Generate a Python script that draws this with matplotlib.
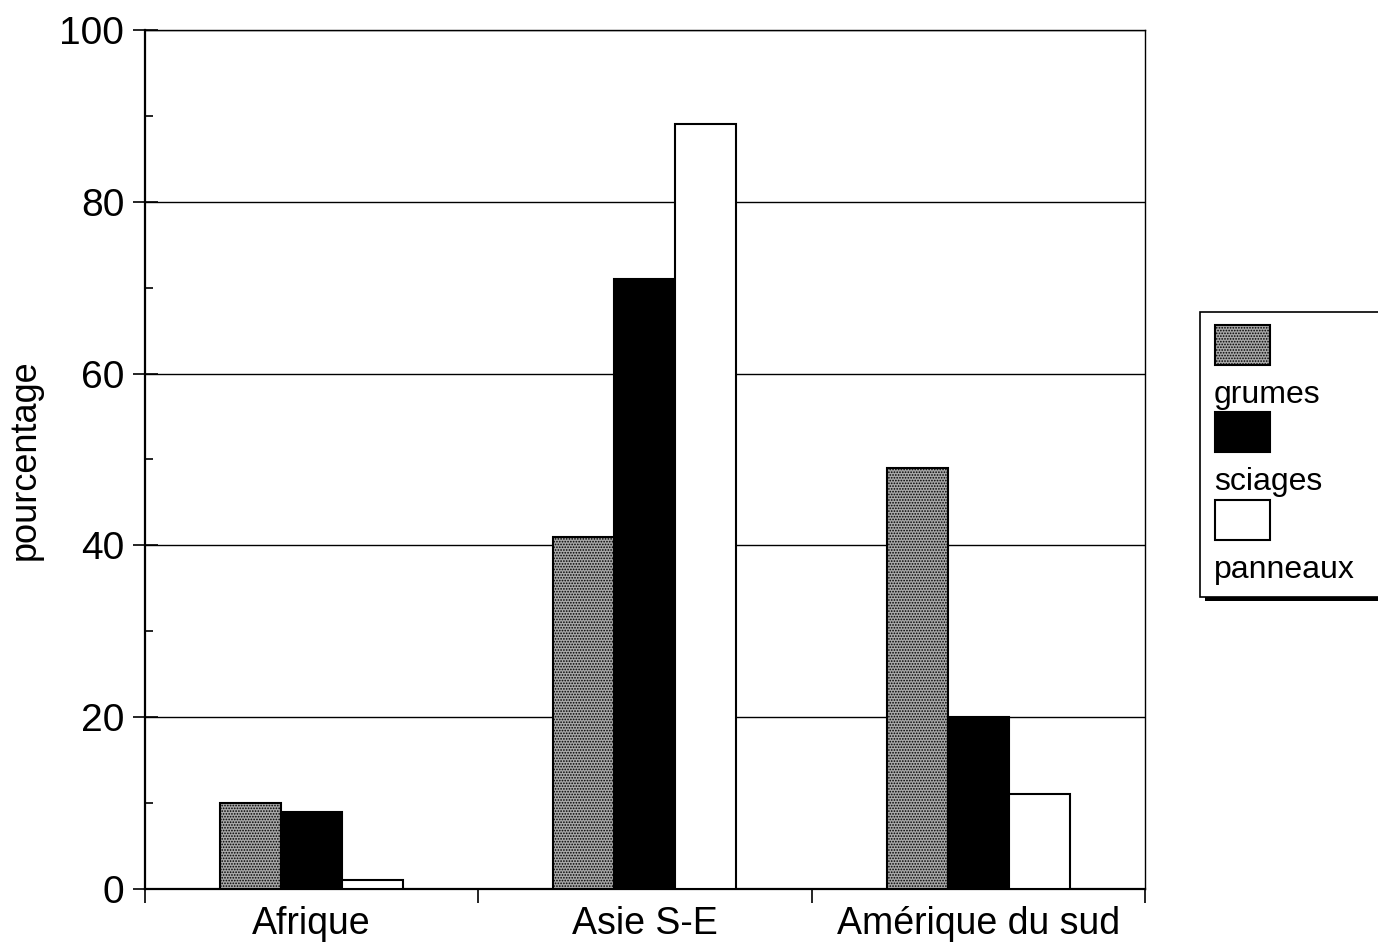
import numpy as np
import matplotlib.pyplot as plt
from matplotlib.patches import Rectangle

plt.rcParams['font.family'] = ['Liberation Sans', 'DejaVu Sans']
plt.rcParams['hatch.linewidth'] = 0.8

regions = ["Afrique", "Asie S-E", "Amérique du sud"]
products = ["grumes", "sciages", "panneaux"]
grumes = [10, 41, 49]
sciages = [9, 71, 20]
panneaux = [1, 89, 11]

colors = ["#a8a8a8", "black", "white"]
hatches = ["......", None, None]

fig = plt.figure(figsize=(13.78, 9.42), dpi=100)
ax = fig.add_axes([0.1052, 0.0563, 0.7257, 0.9119])

x = np.arange(len(regions))
width = 0.183
for i, vals in enumerate([grumes, sciages, panneaux]):
    ax.bar(x + (i - 1) * width, vals, width, color=colors[i],
           edgecolor="black", linewidth=1.5, hatch=hatches[i], zorder=3)

ax.set_xlim(-0.5, 2.5)
ax.set_ylim(0, 100)
ax.set_yticks(range(0, 101, 20))
ax.set_yticks(range(10, 100, 20), minor=True)
ax.yaxis.grid(True, color="black", linewidth=1.0, zorder=0)
ax.set_axisbelow(True)

ax.set_xticks(x)
ax.set_xticklabels(regions, fontsize=27)
ax.set_xticks([-0.5, 0.5, 1.5, 2.5], minor=True)
ax.tick_params(axis="x", which="major", length=0, pad=12)
ax.tick_params(axis="x", which="minor", direction="out", length=10, width=1.2)
ax.tick_params(axis="y", which="major", direction="inout", length=18,
               width=1.2, labelsize=28, pad=6)
ax.tick_params(axis="y", which="minor", direction="in", length=6, width=1.2)
ax.set_ylabel("pourcentage", fontsize=26, labelpad=12)

for side in ["left", "bottom"]:
    ax.spines[side].set_linewidth(1.6)
for side in ["right", "top"]:
    ax.spines[side].set_linewidth(1.0)

# legend drawn by hand: swatch above each label
W, H = 1378.0, 942.0


def fx(px):
    return px / W


def fy(py):
    return 1 - py / H


fig.patches.append(Rectangle((fx(1205), fy(601)), fx(200), 285 / H,
                             transform=fig.transFigure, facecolor="black",
                             edgecolor="none", zorder=1))
fig.patches.append(Rectangle((fx(1200), fy(597)), fx(200), 285 / H,
                             transform=fig.transFigure, facecolor="white",
                             edgecolor="black", linewidth=1.2, zorder=2))
swatch_top = [325, 412, 500]
for i, name in enumerate(products):
    top = swatch_top[i]
    fig.patches.append(Rectangle((fx(1215), fy(top + 40)), fx(55), 40 / H,
                                 transform=fig.transFigure,
                                 facecolor=colors[i], edgecolor="black",
                                 linewidth=1.5, hatch=hatches[i], zorder=3))
    fig.text(fx(1214), fy(top + 70), name, fontsize=23, ha="left",
             va="center", zorder=4)

fig.savefig("out.png", dpi=100)
